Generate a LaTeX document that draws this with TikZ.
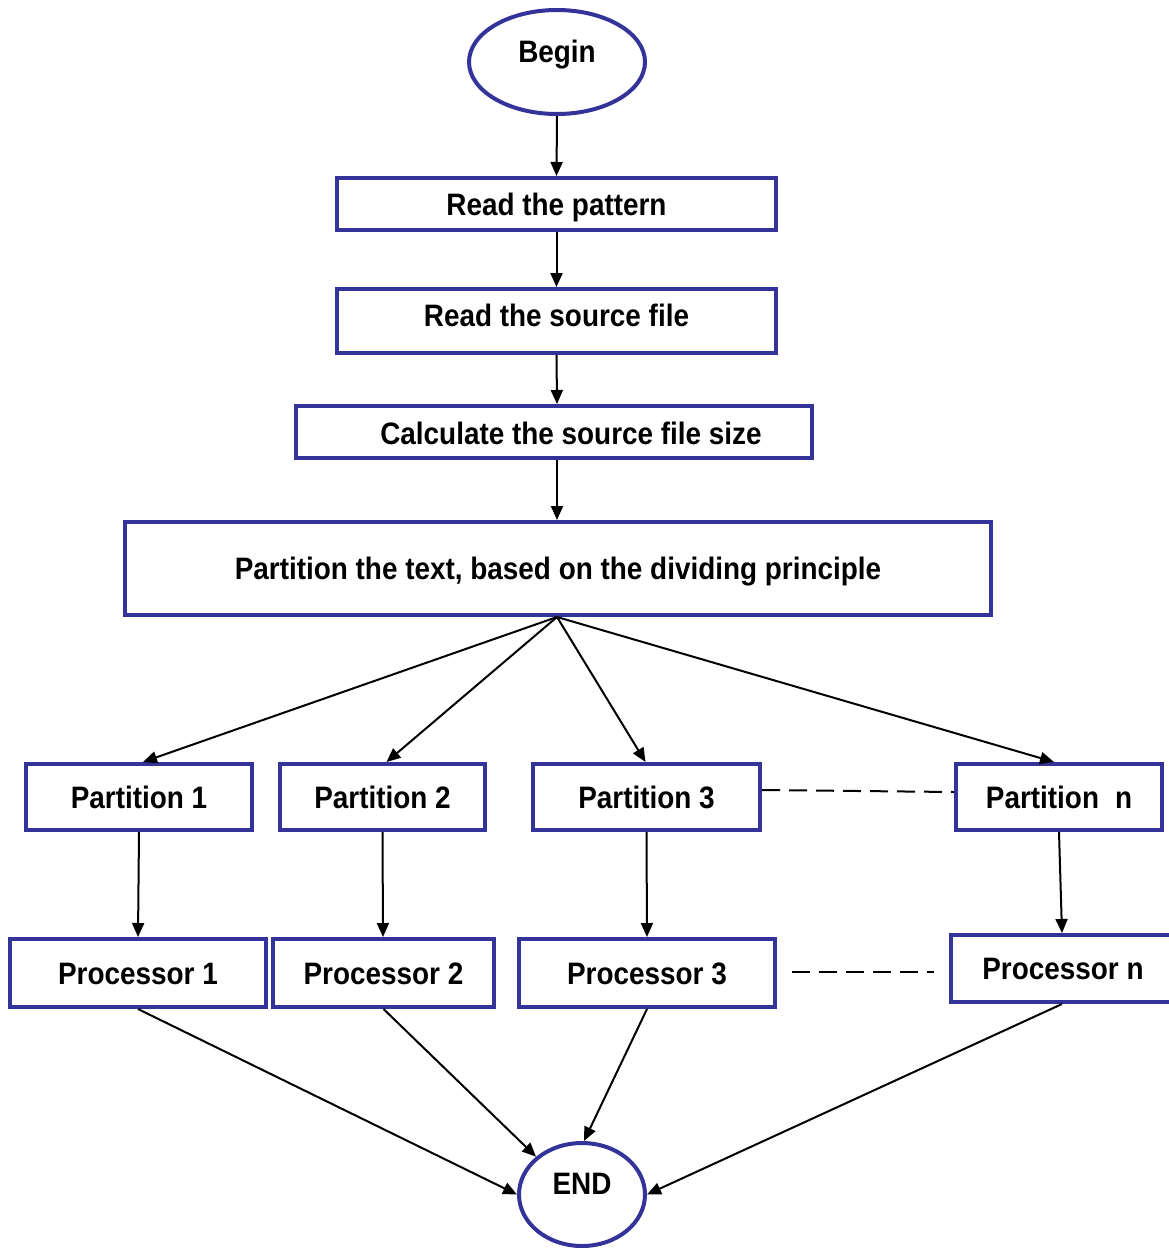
\documentclass[tikz,border=0pt]{standalone}
\usepackage{fontspec}
\setmainfont{Liberation Sans}[FakeStretch=0.9]
\usetikzlibrary{shapes.geometric,arrows.meta}
\definecolor{boxblue}{RGB}{51,51,153}
\begin{document}
\begin{tikzpicture}[x=1pt,y=-1pt,
  lbl/.style={inner sep=0pt,text height=22pt,text depth=0pt,font=\fontsize{31}{34}\selectfont\bfseries},
  box/.style={lbl,draw=boxblue,line width=4pt,rectangle},
  oval/.style={lbl,draw=boxblue,line width=4pt,ellipse},
  arr/.style={line width=2pt,-{Triangle[length=14pt,width=12pt]}},
  dashline/.style={line width=2pt,dash pattern=on 18pt off 9pt}]
\useasboundingbox (0,0) rectangle (1169,1248);
\fill[white] (0,0) rectangle (1169,1248);
\node[oval,minimum width=176pt,minimum height=104pt] (begin) at (557,62) {\raisebox{10.5pt}{Begin}};
\node[box,minimum width=439pt,minimum height=52pt] (read) at (556.5,204) {Read the pattern};
\node[box,minimum width=439pt,minimum height=64pt] (src) at (556.5,321) {\raisebox{5.5pt}{Read the source file}};
\node[box,minimum width=516pt,minimum height=52pt] (calc) at (554,432) {\hspace*{34pt}\raisebox{-1.5pt}{Calculate the source file size}};
\node[box,minimum width=866pt,minimum height=93pt] (part) at (558,568.5) {Partition the text, based on the dividing principle};
\node[box,minimum width=226pt,minimum height=66pt] (p1) at (139,797) {Partition 1};
\node[box,minimum width=205pt,minimum height=66pt] (p2) at (382.5,797) {Partition 2};
\node[box,minimum width=227pt,minimum height=66pt] (p3) at (646.5,797) {Partition 3};
\node[box,minimum width=206pt,minimum height=66pt] (pn) at (1059,797) {Partition\hspace{16pt}n};
\node[box,minimum width=256pt,minimum height=68pt] (c1) at (138,973) {Processor 1};
\node[box,minimum width=221pt,minimum height=68pt] (c2) at (383.5,973) {Processor 2};
\node[box,minimum width=256pt,minimum height=68pt] (c3) at (647,973) {Processor 3};
\node[box,minimum width=224pt,minimum height=67pt] (cn) at (1063,968.5) {Processor n};
\node[oval,minimum width=126pt,minimum height=103pt] (end) at (582,1194.5) {\raisebox{11.5pt}{END}};
\draw[arr] (begin.south) -- (read.north);
\draw[arr] (read.south) -- (src.north);
\draw[arr] (src.south) -- ([xshift=3pt]calc.north);
\draw[arr] ([xshift=3pt]calc.south) -- ([xshift=-1pt]part.north);
\draw[arr] ([xshift=-1pt]part.south) -- ([xshift=4pt]p1.north);
\draw[arr] ([xshift=-1pt]part.south) -- ([xshift=4pt]p2.north);
\draw[arr] ([xshift=-1pt]part.south) -- ([xshift=-1pt]p3.north);
\draw[arr] ([xshift=-1pt]part.south) -- ([xshift=-5pt]pn.north);
\draw[arr] (p1.south) -- (c1.north);
\draw[arr] (p2.south) -- ([xshift=-0.5pt]c2.north);
\draw[arr] (p3.south) -- (c3.north);
\draw[arr] (pn.south) -- ([xshift=-1pt]cn.north);
\draw[arr] (c1.south) -- (end.west);
\draw[arr] (c2.south) -- (end.north west);
\draw[arr] (c3.south) -- ([xshift=2pt]end.north);
\draw[arr] ([xshift=-1pt]cn.south) -- (end.east);
\draw[dashline] ([yshift=7pt]p3.east) -- ([yshift=5pt]pn.west);
\coordinate (d1) at (792,972);
\coordinate (d2) at (934,972);
\draw[dashline] (d1) -- (d2);
\end{tikzpicture}
\end{document}
